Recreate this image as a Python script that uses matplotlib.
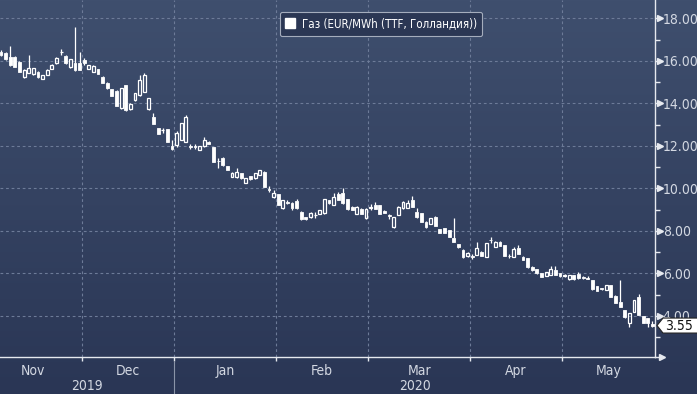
import numpy as np
import matplotlib
matplotlib.use("Agg")
import matplotlib.pyplot as plt
from matplotlib import font_manager as fm
from matplotlib.lines import Line2D
from matplotlib.patches import Polygon
import matplotlib.transforms as mtransforms

# ---------------- data ----------------
opens = [16.44, 16.36, 16.20, 16.20, 15.97, 15.26, 15.45, 15.38, 15.50, 15.15,
         15.34, 15.62, 15.89, 16.40, 16.24, 15.70, 15.92, 15.89, 16.05, 15.62,
         15.50, 15.62, 15.26, 14.98, 14.67, 14.60, 13.77, 14.87, 13.73, 14.16,
         14.40, 14.56, 13.73, 13.38, 12.83, 12.74, 12.78, 11.99, 12.05, 12.28,
         12.20, 11.98, 11.96, 11.83, 11.99, 12.20, 11.93, 11.30, 11.45, 11.06,
         10.56, 10.53, 10.72, 10.28, 10.59, 10.48, 10.64, 10.79, 9.96, 9.61,
         9.74, 9.07, 9.36, 9.30, 9.40, 8.91, 8.66, 8.64, 8.74, 8.80,
         8.83, 9.46, 9.22, 9.74, 9.80, 9.49, 9.15, 8.80, 9.04, 8.60,
         9.10, 9.20, 9.20, 8.95, 8.72, 8.17, 8.75, 9.07, 9.10, 9.46,
         8.91, 8.83, 8.44, 8.33, 8.67, 8.08, 8.12, 8.05, 7.66, 7.39,
         7.11, 6.80, 6.80, 6.87, 7.03, 6.79, 7.58, 7.27, 7.50, 7.34,
         6.82, 6.79, 7.19, 6.79, 6.71, 6.32, 6.20, 6.01, 5.88, 5.93,
         6.17, 6.00, 5.90, 5.73, 5.93, 5.98, 5.82, 5.76, 5.69, 5.40,
         5.30, 5.22, 5.46, 4.95, 4.67, 4.28, 3.65, 4.20, 4.91, 4.00,
         3.90, 3.62]
highs = [16.50, 16.40, 16.71, 16.22, 16.00, 15.60, 16.28, 15.68, 15.52, 15.36,
         15.60, 15.84, 16.18, 16.55, 16.26, 16.10, 17.58, 16.44, 16.12, 15.83,
         15.80, 15.64, 15.28, 15.00, 14.69, 14.62, 14.73, 14.89, 14.00, 14.50,
         15.34, 15.45, 14.26, 13.57, 12.85, 12.85, 12.80, 12.28, 12.70, 13.09,
         13.46, 12.10, 12.08, 12.01, 12.41, 12.25, 11.95, 11.45, 11.50, 11.08,
         10.77, 10.95, 10.74, 10.50, 10.61, 10.74, 10.89, 10.81, 10.10, 9.93,
         9.76, 9.48, 9.48, 9.38, 9.50, 8.93, 8.68, 8.88, 8.90, 9.01,
         9.51, 9.48, 9.77, 9.85, 10.02, 9.51, 9.17, 9.17, 9.06, 9.06,
         9.25, 9.35, 9.22, 8.97, 8.82, 8.66, 9.17, 9.40, 9.45, 9.65,
         9.07, 8.85, 8.46, 8.62, 8.69, 8.10, 8.14, 8.07, 8.59, 7.41,
         7.13, 7.00, 6.90, 7.50, 7.05, 7.44, 7.70, 7.52, 7.52, 7.36,
         6.92, 7.25, 7.34, 6.81, 6.73, 6.34, 6.22, 6.03, 6.07, 6.33,
         6.36, 6.02, 5.98, 5.95, 5.95, 6.05, 5.90, 5.88, 5.71, 5.42,
         5.32, 5.47, 5.48, 4.97, 5.69, 4.30, 4.14, 4.77, 5.03, 4.02,
         3.92, 3.75]
lows = [16.25, 16.05, 15.78, 15.70, 15.48, 15.22, 15.42, 15.35, 15.20, 15.13,
        15.32, 15.60, 15.87, 16.28, 15.87, 15.68, 15.55, 15.56, 15.80, 15.60,
        15.48, 15.38, 14.96, 14.69, 14.33, 13.86, 13.75, 13.67, 13.71, 14.14,
        14.35, 14.54, 13.71, 13.02, 12.55, 12.60, 12.18, 11.80, 11.95, 12.26,
        12.18, 11.85, 11.85, 11.81, 11.97, 12.08, 11.24, 10.95, 11.08, 10.85,
        10.54, 10.51, 10.46, 10.26, 10.42, 10.46, 10.62, 10.07, 9.85, 9.55,
        9.20, 9.05, 9.25, 9.00, 9.05, 8.53, 8.53, 8.62, 8.60, 8.78,
        8.81, 9.28, 9.20, 9.44, 9.25, 9.00, 8.98, 8.78, 8.78, 8.58,
        8.98, 9.03, 8.78, 8.84, 8.55, 8.15, 8.73, 9.05, 9.08, 9.13,
        8.60, 8.42, 8.15, 8.31, 8.22, 7.90, 7.90, 7.71, 7.48, 7.21,
        6.74, 6.78, 6.70, 6.85, 6.81, 6.77, 7.45, 7.25, 7.28, 6.80,
        6.72, 6.77, 6.91, 6.62, 6.27, 6.14, 5.98, 5.83, 5.86, 5.91,
        5.91, 5.84, 5.84, 5.71, 5.71, 5.75, 5.74, 5.74, 5.23, 5.16,
        5.20, 5.20, 4.89, 4.61, 4.42, 3.92, 3.47, 4.18, 4.03, 3.67,
        3.50, 3.50]
closes = [16.30, 16.08, 15.81, 15.73, 15.50, 15.58, 15.66, 15.66, 15.26, 15.34,
          15.58, 15.81, 16.16, 16.42, 15.89, 16.08, 15.58, 15.58, 15.89, 15.81,
          15.78, 15.40, 14.98, 14.71, 14.35, 13.88, 14.71, 13.69, 13.98, 14.48,
          15.11, 15.34, 14.24, 13.04, 12.57, 12.76, 12.20, 11.85, 12.63, 13.07,
          13.38, 11.97, 11.95, 11.99, 12.28, 12.10, 11.26, 11.28, 11.10, 10.87,
          10.75, 10.79, 10.48, 10.48, 10.44, 10.72, 10.87, 10.09, 9.94, 9.80,
          9.22, 9.46, 9.34, 9.10, 9.07, 8.55, 8.55, 8.86, 8.76, 8.99,
          9.49, 9.30, 9.61, 9.46, 9.30, 9.02, 9.00, 9.15, 8.80, 9.04,
          9.12, 9.05, 8.80, 8.86, 8.70, 8.64, 9.15, 9.38, 9.30, 9.15,
          8.64, 8.44, 8.17, 8.60, 8.24, 7.92, 7.92, 7.73, 7.50, 7.23,
          6.76, 6.95, 6.78, 7.19, 6.83, 7.42, 7.56, 7.50, 7.30, 6.82,
          6.80, 7.15, 6.93, 6.64, 6.29, 6.16, 6.00, 5.85, 6.05, 6.20,
          5.93, 5.86, 5.91, 5.93, 5.73, 5.77, 5.80, 5.75, 5.25, 5.18,
          5.25, 5.45, 4.91, 4.63, 4.44, 3.94, 4.12, 4.75, 4.05, 3.69,
          3.69, 3.55]

month_labels = ["Nov", "Dec", "Jan", "Feb", "Mar", "Apr", "May"]
month_bounds = [-3.5, 17.5, 37.5, 59.5, 79.5, 101.5, 121.5, 141.5]  # trading-day index
year_labels = ["2019", "2020"]
year_bounds = [-0.22, 37.5, 141.56]
y_ticks = [4, 6, 8, 10, 12, 14, 16, 18]
y_minor = [3, 5, 7, 9, 11, 13, 15, 17]
legend_label = "Газ (EUR/MWh (TTF, Голландия))"
last_value = closes[-1]

# ---------------- style ----------------
names = {f.name for f in fm.fontManager.ttflist}
FONT = "Liberation Sans Narrow" if "Liberation Sans Narrow" in names else "DejaVu Sans"
plt.rcParams["font.family"] = [FONT, "DejaVu Sans"]
plt.rcParams["font.stretch"] = "condensed"

TXT = "#d3d8e2"
GRID = "#6d7b98"
BG_TOP = "#3f4f6e"
BG_BOT = "#2a3655"

W, H = 697, 394
fig = plt.figure(figsize=(W / 100, H / 100), dpi=100)

# gradient background over the whole figure
bg = fig.add_axes([0, 0, 1, 1], zorder=-10)
top = np.array(matplotlib.colors.to_rgb(BG_TOP))
bot = np.array(matplotlib.colors.to_rgb(BG_BOT))
t = np.linspace(0, 1, 256)[:, None]
grad = (top[None, :] * (1 - t) + bot[None, :] * t)[:, None, :]
bg.imshow(grad, aspect="auto", extent=[0, 1, 0, 1], origin="upper")
bg.set_axis_off()

ax_left, ax_right, ax_top, ax_bot = 0, 655, 0, 357
ax = fig.add_axes([ax_left / W, 1 - ax_bot / H, (ax_right - ax_left) / W, (ax_bot - ax_top) / H])
ax.set_facecolor("none")
ax.set_xlim(year_bounds[0], year_bounds[-1])
ax.set_ylim(2.07, 18.87)

# grid
for v in y_ticks:
    ax.axhline(v, color=GRID, lw=0.8, ls=(0, (2.5, 2.5)), zorder=1)
for b in month_bounds[1:-1]:
    ax.axvline(b, color=GRID, lw=0.8, ls=(0, (2.5, 2.5)), zorder=1)

# candles
x = np.arange(len(closes))
o = np.array(opens); c = np.array(closes); hi = np.array(highs); lo = np.array(lows)
body_lo = np.minimum(o, c)
body_hi = np.maximum(o, c)
up = c >= o
ax.vlines(x, lo, body_lo, color="white", lw=0.9, zorder=3)
ax.vlines(x, body_hi, hi, color="white", lw=0.9, zorder=3)
heights = np.maximum(body_hi - body_lo, 0.03)
ax.bar(x[~up], heights[~up], bottom=body_lo[~up], width=0.62, color="white",
       edgecolor="white", lw=0.6, zorder=4)
ax.bar(x[up], heights[up], bottom=body_lo[up], width=0.62, facecolor="none",
       edgecolor="white", lw=0.9, zorder=4)

# spines
for s in ["top", "left"]:
    ax.spines[s].set_visible(False)
ax.spines["right"].set_color("#e6e9ef")
ax.spines["right"].set_linewidth(1.0)
ax.spines["bottom"].set_color("#e6e9ef")
ax.spines["bottom"].set_linewidth(1.0)

# y axis on the right
ax.yaxis.tick_right()
ax.set_yticks(y_ticks)
ax.set_yticklabels([f"{v:.2f}" for v in y_ticks])
ax.set_yticks(y_minor, minor=True)
ax.tick_params(axis="y", which="major", length=5, width=1, colors="#e6e9ef",
               labelcolor=TXT, labelsize=10, pad=0.5)
ax.tick_params(axis="y", which="minor", length=3.5, width=1, colors="#e6e9ef")
trans_r = mtransforms.blended_transform_factory(ax.transAxes, ax.transData)
ax.plot([1.0 + 5 / 655] * len(y_ticks), y_ticks, marker=">", ls="none", ms=4,
        color="#e6e9ef", transform=trans_r, clip_on=False, zorder=6)
# arrow at end of x axis
ax.plot([1.0 + 7 / 655], [0], marker=">", ms=5, color="#e6e9ef",
        transform=ax.transAxes, clip_on=False)
ax.plot([1.0, 1.0 + 7 / 655], [0, 0], color="#e6e9ef", lw=1,
        transform=ax.transAxes, clip_on=False)

# x axis: month boundaries and labels
ax.set_xticks(month_bounds[1:-1])
ax.set_xticklabels([])
ax.tick_params(axis="x", which="major", length=3, width=1, colors="#e6e9ef")
centers = [(month_bounds[i] + month_bounds[i + 1]) / 2 for i in range(len(month_labels))]
ax.set_xticks(centers, minor=True)
ax.set_xticklabels(month_labels, minor=True)
ax.tick_params(axis="x", which="minor", length=0, labelcolor=TXT, labelsize=10, pad=5)

trans_b = mtransforms.blended_transform_factory(ax.transData, fig.transFigure)
for i, lab in enumerate(year_labels):
    cx = (year_bounds[i] + year_bounds[i + 1]) / 2
    ax.text(cx, 1 - 386 / H, lab, transform=trans_b, ha="center", va="center",
            color=TXT, fontsize=10)
ax.plot([year_bounds[1], year_bounds[1]], [1 - 362 / H, 0], transform=trans_b,
        color="#8a94a8", lw=0.8, clip_on=False)

# legend
handle = Line2D([], [], marker="s", ls="none", color="white", ms=7)
leg = ax.legend([handle], [legend_label], loc="center", bbox_to_anchor=(381 / 655, 1 - 24 / 357),
                frameon=True, fancybox=True, fontsize=8.3, handlelength=0.8, handletextpad=0.6,
                borderpad=0.5, labelcolor="white")
leg.get_frame().set_facecolor("#2b3754")
leg.get_frame().set_edgecolor("#a5adbd")
leg.get_frame().set_linewidth(0.8)
leg.get_frame().set_alpha(1)

# last price label
fig.canvas.draw()
yp = ax.transData.transform((0, last_value))[1]
xp = ax.transAxes.transform((1, 0))[0]
pts_pix = [(xp + 2, yp), (xp + 8, yp + 7.5), (W + 2, yp + 7.5), (W + 2, yp - 7.5), (xp + 8, yp - 7.5)]
inv = fig.transFigure.inverted()
pts = inv.transform(pts_pix)
fig.patches.append(Polygon(pts, closed=True, facecolor="white", edgecolor="#222222",
                           lw=0.8, transform=fig.transFigure, zorder=20))
tx, ty = inv.transform((xp + 10, yp))
fig.text(tx, ty, f"{last_value:.2f}", color="#111111", fontsize=10, ha="left",
         va="center", zorder=21)

fig.savefig("out.png", dpi=100)
